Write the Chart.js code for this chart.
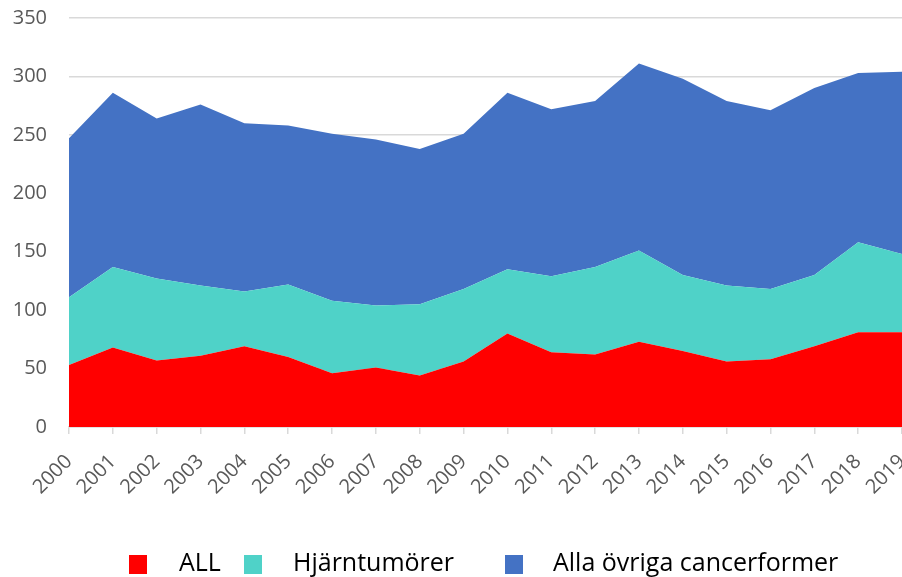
<!DOCTYPE html>
<html>
<head>
<meta charset="utf-8">
<script src="https://cdn.jsdelivr.net/npm/chart.js@4.4.1/dist/chart.umd.min.js"></script>
<style>
  html, body { margin: 0; padding: 0; background: #fff; overflow: hidden; }
  #wrap { position: relative; width: 902px; height: 577px; overflow: hidden; }
  #box { position: absolute; left: 0; top: 0; width: 902px; height: 577px; }
  .leg { position: absolute; top: 544px; font: 25px "Open Sans", sans-serif; color: #000; }
  .sw { position: absolute; top: 555px; width: 18px; height: 19px; }
</style>
</head>
<body>
<div id="wrap">
  <div id="box"><canvas id="cancerChart"></canvas></div>
  <div class="sw" style="left:129px;background:#ff0000"></div>
  <div class="leg" style="left:179px">ALL</div>
  <div class="sw" style="left:244px;background:#4fd2c8"></div>
  <div class="leg" style="left:293px">Hjärntumörer</div>
  <div class="sw" style="left:505px;background:#4472c4"></div>
  <div class="leg" style="left:553px">Alla övriga cancerformer</div>
</div>
<script>
// år och antal fall per diagnosgrupp
var years = ['2000', '2001', '2002', '2003', '2004', '2005', '2006', '2007', '2008', '2009',
             '2010', '2011', '2012', '2013', '2014', '2015', '2016', '2017', '2018', '2019'];
var allCases = [53, 68, 57, 61, 69, 60, 46, 51, 44, 56, 80, 64, 62, 73, 65, 56, 58, 69, 81, 81];
var brainTumours = [58, 69, 70, 60, 47, 62, 62, 53, 61, 62, 55, 65, 75, 78, 65, 65, 60, 61, 77, 67];
var otherCancers = [136, 149, 137, 155, 144, 136, 143, 142, 133, 133, 151, 143, 142, 160, 168, 158, 153, 160, 145, 156];
var yTicks = [0, 50, 100, 150, 200, 250, 300, 350];

document.addEventListener('DOMContentLoaded', function () {
    var ctx = document.getElementById('cancerChart').getContext('2d');
    var cancerChart = new Chart(ctx, {
        type: 'line',
        data: {
            labels: years,
            datasets: [{
                label: 'ALL',
                data: allCases,
                backgroundColor: '#ff0000',
                fill: 'origin'
            }, {
                label: 'Hjärntumörer',
                data: brainTumours,
                backgroundColor: '#4fd2c8',
                fill: '-1'
            }, {
                label: 'Alla övriga cancerformer',
                data: otherCancers,
                backgroundColor: '#4472c4',
                fill: '-1'
            }]
        },
        options: {
            responsive: true,
            maintainAspectRatio: false,
            animation: false,
            elements: {
                line: { borderWidth: 0, tension: 0 },
                point: { radius: 0 }
            },
            layout: { padding: { top: 18, right: 0, left: 0, bottom: 0 } },
            plugins: {
                legend: { display: false },
                tooltip: { enabled: false }
            },
            scales: {
                x: {
                    grid: { drawOnChartArea: false, color: '#d9d9d9', tickLength: 7, lineWidth: 1.5 },
                    border: { display: true, color: '#d9d9d9', width: 1.5 },
                    ticks: {
                        minRotation: 45, maxRotation: 45,
                        color: '#595959',
                        font: { family: 'Open Sans', size: 20 },
                        padding: 16
                    },
                    afterFit: function (scale) {
                        scale.height = 150;
                        scale.paddingRight = 0;
                        scale.paddingLeft = 0;
                    }
                },
                y: {
                    stacked: true,
                    min: 0, max: 350,
                    afterBuildTicks: function (scale) {
                        scale.ticks = yTicks.map(function (v) { return { value: v }; });
                    },
                    grid: { color: '#d9d9d9', lineWidth: 1.5, drawTicks: false },
                    border: { display: false },
                    ticks: {
                        color: '#595959',
                        font: { family: 'Open Sans', size: 20 },
                        padding: 22
                    },
                    afterFit: function (scale) {
                        scale.width = 69;
                        scale.paddingTop = 0;
                        scale.paddingBottom = 0;
                    }
                }
            }
        }
    });
});
</script>
</body>
</html>
